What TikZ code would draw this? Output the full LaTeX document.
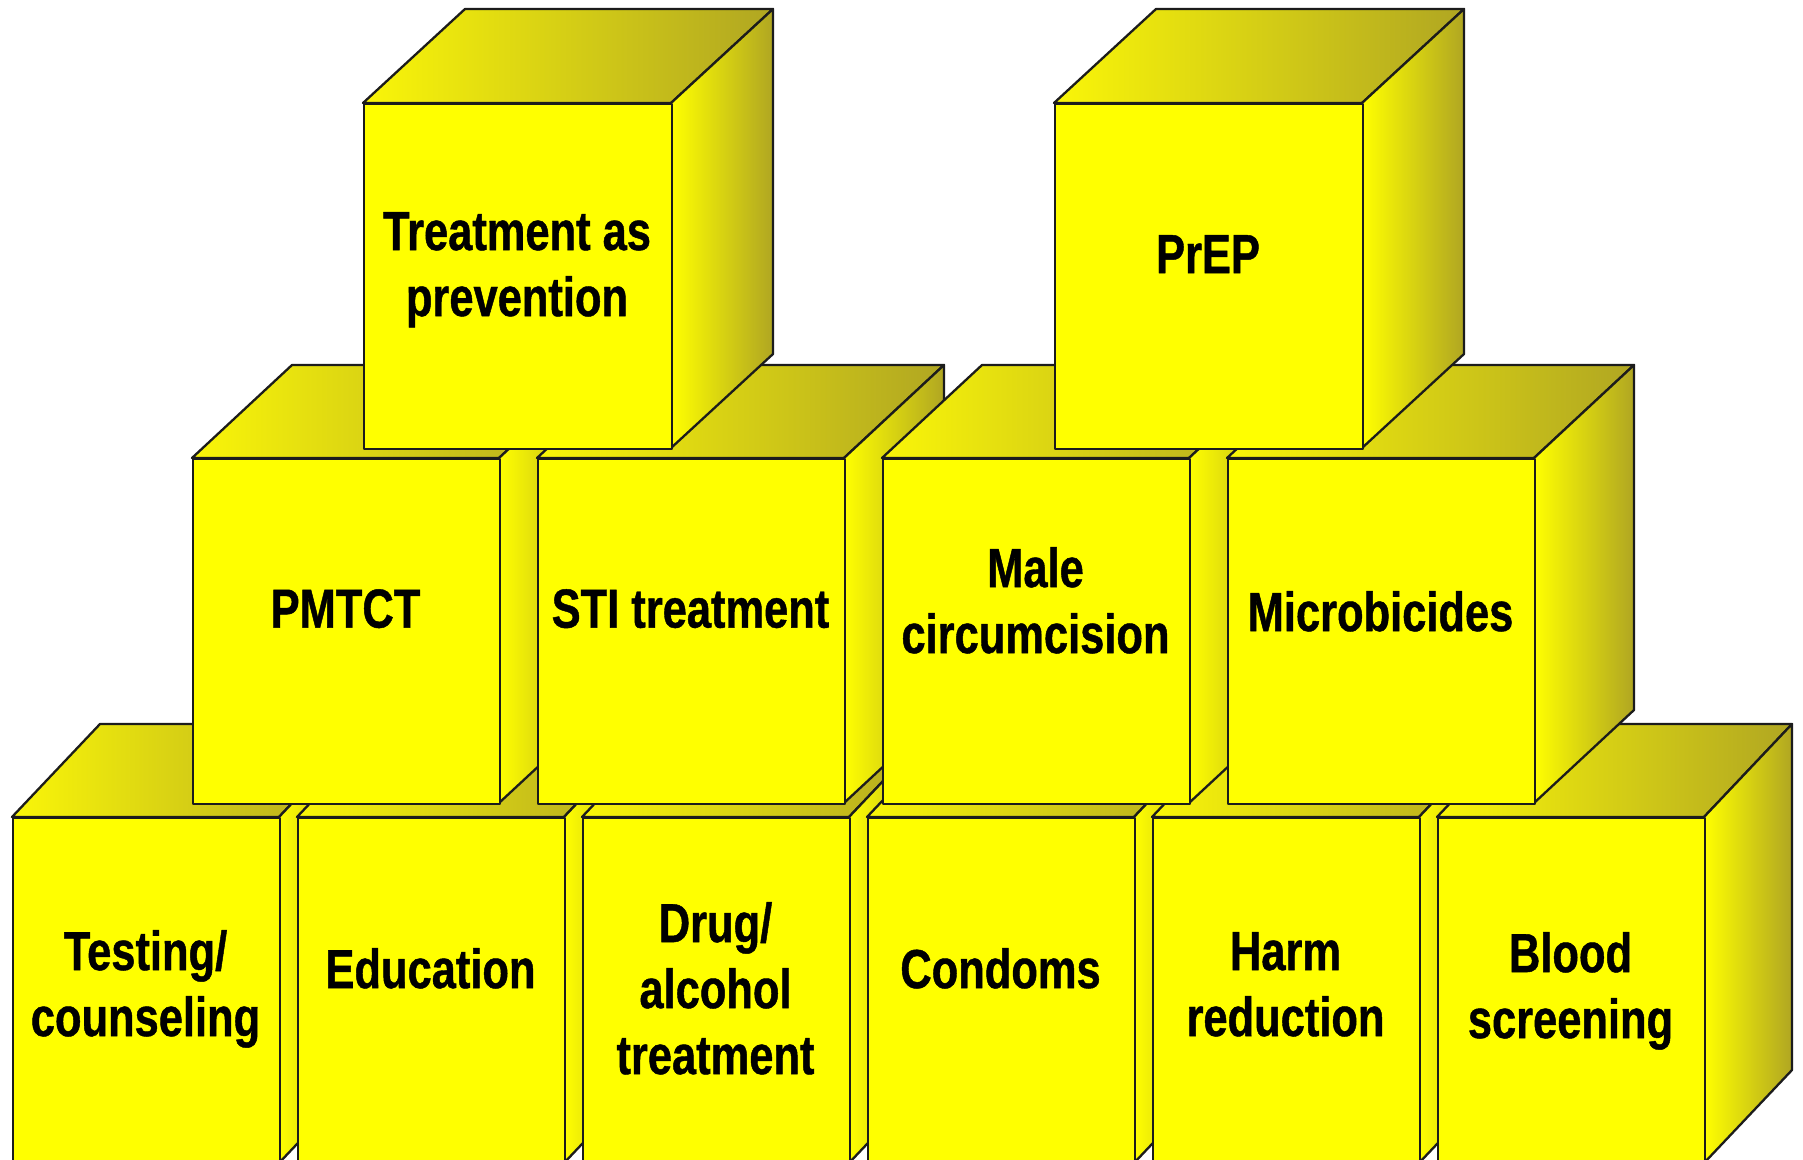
\documentclass[tikz,border=0pt]{standalone}
\usepackage{fontspec}
\newfontfamily\labfont{Liberation Sans}[FakeStretch=0.79,BoldFeatures={FakeBold=0.8}]
\definecolor{cubeY}{RGB}{255,255,0}
\definecolor{cubeL}{RGB}{250,246,8}
\definecolor{cubeD}{RGB}{176,166,34}
\definecolor{edgecol}{RGB}{28,28,28}
\tikzset{
  edgeline/.style={draw=edgecol, line width=2.3pt, line join=round},
  frontface/.style={edgeline, fill=cubeY, rectangle, inner sep=0pt, anchor=north west},
  topface/.style={edgeline, left color=cubeL, right color=cubeD},
  sideface/.style={edgeline, left color=cubeY, right color=cubeD},
  lab/.style={font=\labfont\bfseries\fontsize{55}{66}\selectfont, align=center, inner sep=0pt, anchor=north, text=black},
}
% #1 name, #2 left, #3 top, #4 width, #5 height, #6 depth x, #7 depth y
\newcommand{\drawcube}[7]{%
  \path[topface] (#2,#3) -- ++(#6,-#7) -- ++(#4,0) -- ++(-#6,#7) -- cycle;
  \path[sideface] (#2+#4,#3) -- ++(#6,-#7) -- ++(0,#5) -- ++(-#6,#7) -- cycle;
  \node[frontface, minimum width=#4pt, minimum height=#5pt] (#1) at (#2,#3) {};
}
\begin{document}
\begin{tikzpicture}[x=1pt,y=-1pt]
\useasboundingbox (0,0) rectangle (1803,1159);
\fill[white] (0,0) rectangle (1803,1159);
\clip (0,0) rectangle (1803,1159);
% bottom row
\drawcube{testing}{12}{817}{267}{346}{88}{93}
\drawcube{education}{297}{817}{267}{346}{88}{93}
\drawcube{drug}{582}{817}{267}{346}{88}{93}
\drawcube{condoms}{867}{817}{267}{346}{88}{93}
\drawcube{harm}{1152}{817}{267}{346}{88}{93}
\drawcube{blood}{1437}{817}{267}{346}{88}{93}
% middle row
\drawcube{pmtct}{192}{458}{307}{345}{100}{93}
\drawcube{sti}{537}{458}{307}{345}{100}{93}
\drawcube{male}{882}{458}{307}{345}{100}{93}
\drawcube{micro}{1227}{458}{307}{345}{100}{93}
% top row
\drawcube{tasp}{363}{103}{308}{345}{102}{94}
\drawcube{prep}{1054}{103}{308}{345}{102}{94}
% labels
\node[lab] (testing-t) at (145.5,930) {Testing/\\counseling};
\node[lab] (education-t) at (430.5,948) {Education};
\node[lab] (drug-t) at (715.5,902) {Drug/\\alcohol\\treatment};
\node[lab] (condoms-t) at (1000.5,948) {Condoms};
\node[lab] (harm-t) at (1285.5,932) {Harm\\reduction};
\node[lab] (blood-t) at (1570.5,932) {Blood\\screening};
\node[lab] (pmtct-t) at (345.5,589) {PMTCT};
\node[lab] (sti-t) at (690.5,589) {STI treatment};
\node[lab] (male-t) at (1035.5,547) {Male\\circumcision};
\node[lab] (micro-t) at (1380.5,591) {Microbicides};
\node[lab] (tasp-t) at (517,212) {Treatment as\\prevention};
\node[lab] (prep-t) at (1208,235) {PrEP};
\end{tikzpicture}
\end{document}
